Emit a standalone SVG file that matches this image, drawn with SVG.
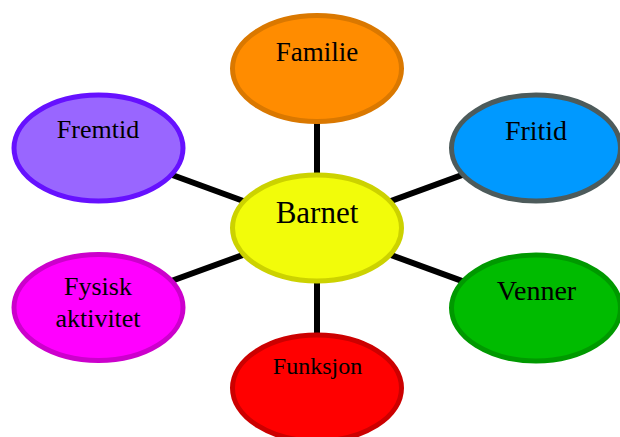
<svg xmlns="http://www.w3.org/2000/svg" width="620" height="437" viewBox="0 0 620 437">
<style>
.n{stroke-width:5}
.t{font-family:"Liberation Serif","Times New Roman",serif;text-anchor:middle;fill:#000}
.c line{stroke:#000;stroke-width:6}
</style>
<rect width="620" height="437" fill="#fff"/>
<g id="connectors" class="c">
<line x1="317" y1="68" x2="317" y2="228"/>
<line x1="98.5" y1="148" x2="317" y2="228"/>
<line x1="536" y1="148" x2="317" y2="228"/>
<line x1="98.5" y1="307.5" x2="317" y2="228"/>
<line x1="536" y1="308" x2="317" y2="228"/>
<line x1="317" y1="388" x2="317" y2="228"/>
</g>
<g id="familie"><ellipse class="n" cx="317" cy="68.5" rx="84.5" ry="53" fill="#FF8C00" stroke="#DA7800"/><text class="t" x="317" y="61" font-size="27">Familie</text></g>
<g id="fremtid"><ellipse class="n" cx="98.5" cy="148" rx="84.5" ry="53" fill="#9966FF" stroke="#6611FF"/><text class="t" x="98" y="138" font-size="26">Fremtid</text></g>
<g id="fritid"><ellipse class="n" cx="536" cy="148" rx="84.5" ry="53" fill="#0099FF" stroke="#4D5B5B"/><text class="t" x="536" y="140" font-size="28">Fritid</text></g>
<g id="barnet"><ellipse class="n" cx="317" cy="228" rx="84.5" ry="53" fill="#F2FC0A" stroke="#CCD200"/><text class="t" x="317" y="223" font-size="31">Barnet</text></g>
<g id="fysisk"><ellipse class="n" cx="98.5" cy="307.5" rx="84.5" ry="53" fill="#FF00FF" stroke="#CC00CC"/><text class="t" x="98" y="295" font-size="26">Fysisk</text><text class="t" x="98" y="327" font-size="26">aktivitet</text></g>
<g id="venner"><ellipse class="n" cx="536" cy="308" rx="84.5" ry="53" fill="#00BB00" stroke="#009900"/><text class="t" x="536.5" y="300" font-size="28">Venner</text></g>
<g id="funksjon"><ellipse class="n" cx="317" cy="388" rx="84.5" ry="53" fill="#FF0000" stroke="#CC0000"/><text class="t" x="317.5" y="374" font-size="24">Funksjon</text></g>
</svg>
